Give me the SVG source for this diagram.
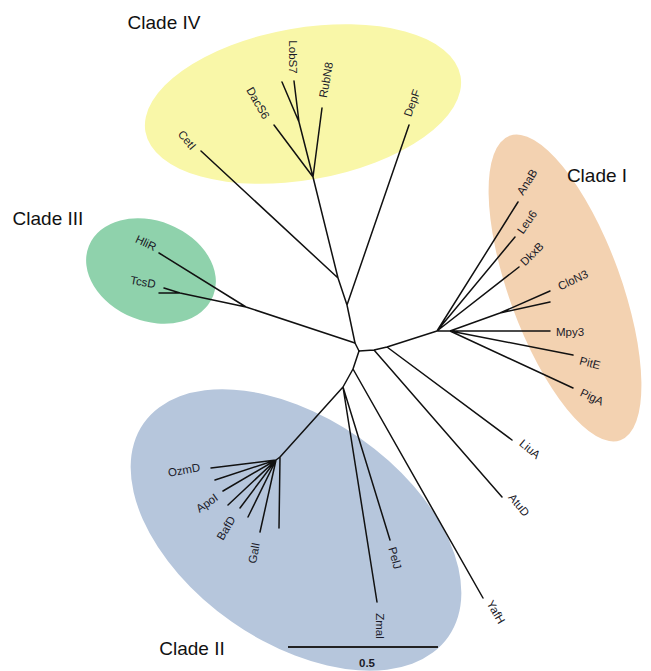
<svg xmlns="http://www.w3.org/2000/svg" width="651" height="671" viewBox="0 0 651 671">
<style>
.e{stroke:none}
.br{fill:none;stroke:#111;stroke-width:1.5;stroke-linecap:round;stroke-linejoin:round}
.t{font-family:"Liberation Sans",Arial,sans-serif;font-size:11.5px;fill:#1a1a28;text-anchor:middle;dominant-baseline:central}
.c{font-family:"Liberation Sans",Arial,sans-serif;font-size:19px;fill:#111;text-anchor:middle;dominant-baseline:central}
</style>
<rect width="651" height="671" fill="#fff"/>
<g id="cladeIV"><ellipse class="e" cx="303" cy="104" rx="160" ry="76" transform="rotate(-10 303 104)" fill="#f9f7a8"/><text class="c" x="164" y="22">Clade IV</text></g>
<g id="cladeI"><ellipse class="e" cx="565" cy="288" rx="56" ry="162" transform="rotate(-20 565 288)" fill="#f3d2b1"/><text class="c" x="597" y="175">Clade I</text></g>
<g id="cladeIII"><ellipse class="e" cx="151" cy="271" rx="67" ry="50" transform="rotate(22 151 271)" fill="#8fd2ac"/><text class="c" x="48" y="218">Clade III</text></g>
<g id="cladeII"><ellipse class="e" cx="296" cy="530" rx="186" ry="112" transform="rotate(35 296 530)" fill="#b6c6dc"/><text class="c" x="192" y="648">Clade II</text></g>
<g id="connectors">
<path class="br" d="M359,351 L355,343 L347,305 L338,278 L201,151 M338,278 L313,177 L274,125 M313,177 L299,122 L282,82 M299,122 L294,81 M313,177 L322,108 M347,305 L409,125"/>
<path class="br" d="M355,343 L246,307 L159,253 M246,307 L180,293 L164,288 M180,293 L159,293"/>
<path class="br" d="M359,351 L374,350 L387,347 L437,331 L518,202 M437,331 L515,237 M437,331 L519,267 M437,331 L450,331 L550,331 M450,331 L500,313 L550,291 M500,313 L550,302 M450,331 L573,355 M450,331 L573,388 M387,347 L512,440 M374,350 L502,497"/>
<path class="br" d="M359,351 L353,369 L483,598 M353,369 L343,387 L377,602 M343,387 L390,540 M343,387 L280,457 L276,460 L211,468 M276,460 L215,480 M276,460 L223,491 M276,460 L228,505 M276,460 L240,508 M276,460 L248,517 M276,460 L260,532 M280,457 L279,528"/>
</g>
<g id="tips">
<text class="t" x="293" y="57" transform="rotate(90 293 57)">LobS7</text>
<text class="t" x="326" y="80" transform="rotate(-80 326 80)">RubN8</text>
<text class="t" x="258" y="103" transform="rotate(60 258 103)">DacS6</text>
<text class="t" x="187" y="140" transform="rotate(50 187 140)">CetI</text>
<text class="t" x="412" y="103" transform="rotate(-70 412 103)">DepF</text>
<text class="t" x="146" y="243" transform="rotate(25 146 243)">HliR</text>
<text class="t" x="143" y="282" transform="rotate(10 143 282)">TcsD</text>
<text class="t" x="527" y="182" transform="rotate(-58 527 182)">AnaB</text>
<text class="t" x="527" y="222" transform="rotate(-55 527 222)">Leu6</text>
<text class="t" x="532" y="254" transform="rotate(-45 532 254)">DkxB</text>
<text class="t" x="573" y="280" transform="rotate(-25 573 280)">CloN3</text>
<text class="t" x="570" y="332">Mpy3</text>
<text class="t" x="590" y="363" transform="rotate(15 590 363)">PitE</text>
<text class="t" x="592" y="397" transform="rotate(25 592 397)">PigA</text>
<text class="t" x="530" y="449" transform="rotate(40 530 449)">LiuA</text>
<text class="t" x="519" y="505" transform="rotate(50 519 505)">AtuD</text>
<text class="t" x="496" y="612" transform="rotate(60 496 612)">YafH</text>
<text class="t" x="395" y="558" transform="rotate(75 395 558)">PelJ</text>
<text class="t" x="380" y="626" transform="rotate(90 380 626)">Zmal</text>
<text class="t" x="184" y="470" transform="rotate(-10 184 470)">OzmD</text>
<text class="t" x="207" y="503" transform="rotate(-35 207 503)">ApoI</text>
<text class="t" x="226" y="528" transform="rotate(-60 226 528)">BafD</text>
<text class="t" x="254" y="553" transform="rotate(-80 254 553)">GalI</text>
</g>
<g id="scale">
<line x1="288" y1="647" x2="438" y2="647" stroke="#222" stroke-width="2"/>
<text class="t" x="367" y="663" style="font-weight:bold">0.5</text>
</g>
</svg>
